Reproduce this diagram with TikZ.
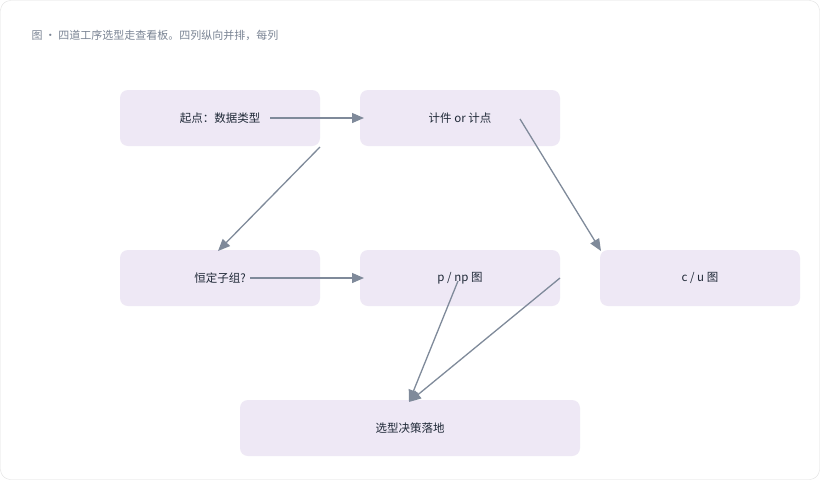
\documentclass[tikz,border=0pt]{standalone}
\usepackage{fontspec}
\setmainfont{Noto Sans CJK SC}
\usetikzlibrary{arrows.meta}
\definecolor{nodefill}{HTML}{EEE8F5}
\definecolor{arr}{HTML}{7F8A9A}
\definecolor{txt}{HTML}{1F2937}
\definecolor{ttl}{HTML}{7A8494}
\begin{document}
\begin{tikzpicture}[x=1pt,y=-1pt,
  box/.style={fill=nodefill,rounded corners=8pt,minimum height=56pt,inner sep=0pt,font=\fontsize{11.5}{14}\selectfont,text=txt},
  con/.style={draw=arr,line width=1.3pt,-{Triangle[length=12pt,width=10pt]}}]
\draw[draw=black!12,fill=white,rounded corners=10pt] (0.5,0.5) rectangle (819.5,479.5);
\useasboundingbox (0,0) rectangle (820,480);
\node[anchor=west,text=ttl,font=\fontsize{11}{13}\selectfont] (title) at (28,35) {图 · 四道工序选型走查看板。四列纵向并排，每列};
\node[box,minimum width=200pt] (a) at (220,118) {起点：数据类型};
\node[box,minimum width=200pt] (b) at (460,118) {计件 or 计点};
\node[box,minimum width=200pt] (c) at (220,278) {恒定子组?};
\node[box,minimum width=200pt] (d) at (460,278) {p / np 图};
\node[box,minimum width=200pt] (e) at (700,278) {c / u 图};
\node[box,minimum width=340pt] (f) at (410,428) {选型决策落地};
\coordinate (a1) at (270,118); \coordinate (b1) at (364,118);
\coordinate (a2) at (320,147); \coordinate (c2) at (218,251);
\coordinate (b3) at (520,119); \coordinate (e3) at (601,251);
\coordinate (c4) at (250,278); \coordinate (d4) at (364,278);
\coordinate (d5) at (458,281); \coordinate (f5) at (409,402);
\coordinate (d6) at (560,278); \coordinate (f6) at (409,402);
\draw[con] (a1) -- (b1);
\draw[con] (a2) -- (c2);
\draw[con] (b3) -- (e3);
\draw[con] (c4) -- (d4);
\draw[con] (d5) -- (f5);
\draw[con] (d6) -- (f6);
\end{tikzpicture}
\end{document}
